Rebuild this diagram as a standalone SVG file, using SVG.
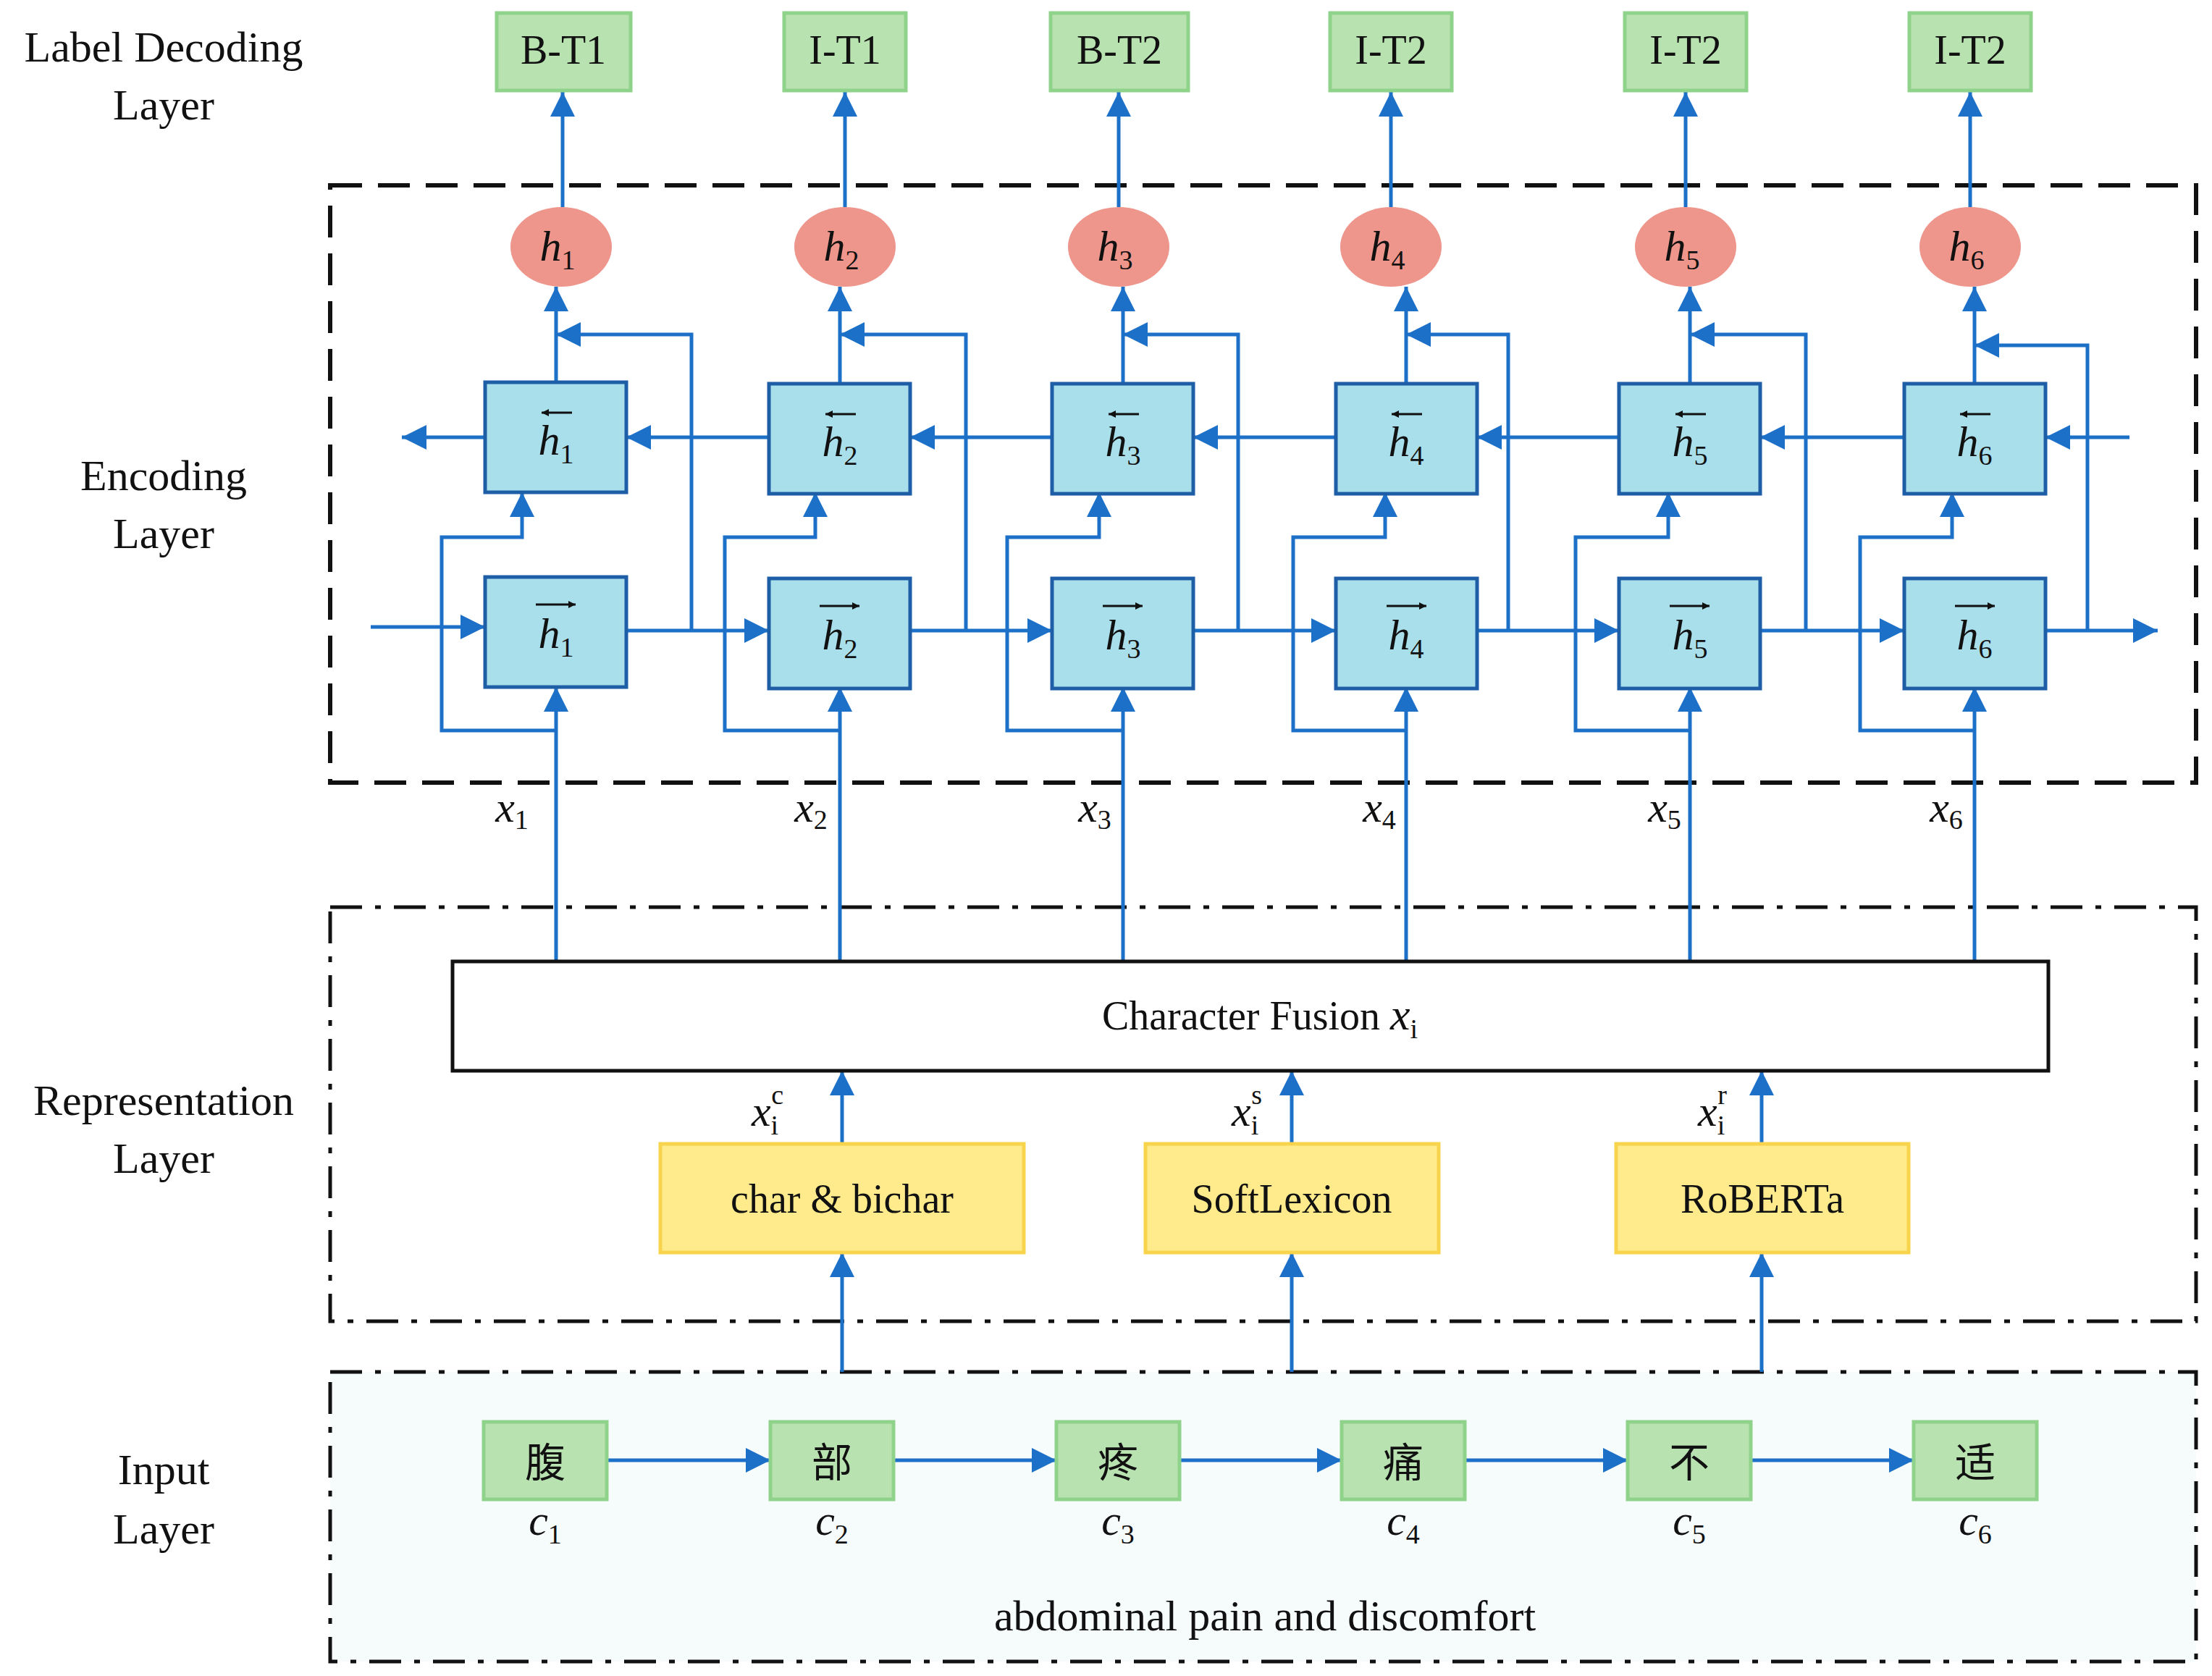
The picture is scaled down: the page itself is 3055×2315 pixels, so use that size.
<svg xmlns="http://www.w3.org/2000/svg" width="3055" height="2315" viewBox="0 0 3055 2315">
<style>
text{font-family:"Liberation Serif","Times New Roman",serif;fill:#111}
.lt{font-size:60px;text-anchor:middle}
.bt{font-size:56px;text-anchor:middle}
.hi{font-size:60px;font-style:italic;text-anchor:middle}
.sub{font-size:38px;font-style:normal}
.c{fill:none;stroke:#1c70c8;stroke-width:5}
.ca{fill:none;stroke:#1c70c8;stroke-width:5;marker-end:url(#ah)}
.lab{fill:#b9e2b1;stroke:#8fd28a;stroke-width:5}
.cell{fill:#a9dfeb;stroke:#1d5ea6;stroke-width:5}
.ell{fill:#ee958c}
.yel{fill:#ffeb8c;stroke:#f8d34c;stroke-width:5}
.dash{fill:none;stroke:#111;stroke-width:6;stroke-dasharray:44 22}
.dd{fill:none;stroke:#111;stroke-width:5;stroke-dasharray:44 18 8 18}
.ov{stroke:#111;stroke-width:3;marker-end:url(#sm)}
</style>
<defs>
<marker id="ah" viewBox="0 0 10 10" refX="10" refY="5" markerUnits="userSpaceOnUse" markerWidth="40" markerHeight="34" orient="auto"><path d="M0,0L10,5L0,10z" fill="#1c70c8"/></marker>
<marker id="sm" viewBox="0 0 10 10" refX="10" refY="5" markerUnits="userSpaceOnUse" markerWidth="12" markerHeight="10" orient="auto"><path d="M0,0L10,5L0,10z" fill="#111"/></marker>
</defs>
<rect width="3055" height="2315" fill="#fff"/>
<g id="layer-labels">
<text class="lt" x="226" y="85">Label Decoding</text><text class="lt" x="226" y="165">Layer</text>
<text class="lt" x="226" y="677">Encoding</text><text class="lt" x="226" y="757">Layer</text>
<text class="lt" x="226" y="1540">Representation</text><text class="lt" x="226" y="1620">Layer</text>
<text class="lt" x="226" y="2050">Input</text><text class="lt" x="226" y="2132">Layer</text>
</g>
<g id="frames">
<rect class="dash" x="456" y="256" width="2577" height="825"/>
<rect class="dd" x="456" y="1253" width="2577" height="572"/>
<rect x="456" y="1895" width="2577" height="400" fill="#f6fbfc"/>
<rect class="dd" x="456" y="1895" width="2577" height="400"/>
</g>
<g id="connectors">
<!-- forward chain -->
<path class="ca" d="M512,866H670"/>
<path class="ca" d="M865,871H1062"/><path class="ca" d="M1257,871H1453"/><path class="ca" d="M1648,871H1845"/><path class="ca" d="M2040,871H2236"/><path class="ca" d="M2431,871H2630"/><path class="ca" d="M2825,871H2980"/>
<!-- backward chain -->
<path class="ca" d="M2941,604H2825"/><path class="ca" d="M2630,604H2431"/><path class="ca" d="M2236,604H2040"/><path class="ca" d="M1845,604H1648"/><path class="ca" d="M1453,604H1257"/><path class="ca" d="M1062,604H865"/><path class="ca" d="M670,604H555"/>
<!-- per column -->
<path class="ca" d="M768,1328V949"/><path class="ca" d="M1160,1328V949"/><path class="ca" d="M1551,1328V949"/><path class="ca" d="M1942,1328V949"/><path class="ca" d="M2334,1328V949"/><path class="ca" d="M2727,1328V949"/>
<path class="ca" d="M768,1009H610V742H721V680"/><path class="ca" d="M1160,1009H1001V742H1126V680"/><path class="ca" d="M1551,1009H1391V742H1518V680"/><path class="ca" d="M1942,1009H1786V742H1913V680"/><path class="ca" d="M2334,1009H2176V742H2304V680"/><path class="ca" d="M2727,1009H2569V742H2696V680"/>
<path class="ca" d="M955,871V462H768"/><path class="ca" d="M1334,871V462H1160"/><path class="ca" d="M1710,871V462H1551"/><path class="ca" d="M2083,871V462H1942"/><path class="ca" d="M2494,871V462H2334"/><path class="ca" d="M2883,871V477H2727"/>
<path class="ca" d="M768,528V396"/><path class="ca" d="M1160,528V396"/><path class="ca" d="M1551,528V396"/><path class="ca" d="M1942,528V396"/><path class="ca" d="M2334,528V396"/><path class="ca" d="M2727,528V396"/>
<path class="ca" d="M777,286V127"/><path class="ca" d="M1167,286V127"/><path class="ca" d="M1545,286V127"/><path class="ca" d="M1921,286V127"/><path class="ca" d="M2328,286V127"/><path class="ca" d="M2721,286V127"/>
<!-- representation -->
<path class="ca" d="M1163,1580V1479"/><path class="ca" d="M1784,1580V1479"/><path class="ca" d="M2433,1580V1479"/>
<path class="ca" d="M1163,1895V1730"/><path class="ca" d="M1784,1895V1730"/><path class="ca" d="M2433,1895V1730"/>
<!-- input chain -->
<path class="ca" d="M838,2017H1064"/><path class="ca" d="M1234,2017H1459"/><path class="ca" d="M1629,2017H1853"/><path class="ca" d="M2023,2017H2248"/><path class="ca" d="M2418,2017H2643"/>
</g>
<g id="labels-out">
<rect class="lab" x="686" y="18" width="185" height="107"/><text class="bt" x="778" y="88">B-T1</text>
<rect class="lab" x="1083" y="18" width="168" height="107"/><text class="bt" x="1167" y="88">I-T1</text>
<rect class="lab" x="1451" y="18" width="190" height="107"/><text class="bt" x="1546" y="88">B-T2</text>
<rect class="lab" x="1837" y="18" width="168" height="107"/><text class="bt" x="1921" y="88">I-T2</text>
<rect class="lab" x="2244" y="18" width="168" height="107"/><text class="bt" x="2328" y="88">I-T2</text>
<rect class="lab" x="2637" y="18" width="168" height="107"/><text class="bt" x="2721" y="88">I-T2</text>
</g>
<g id="hidden-states">
<ellipse class="ell" cx="775" cy="341" rx="70" ry="55"/><text class="hi" x="770" y="360">h<tspan class="sub" dy="12">1</tspan></text>
<ellipse class="ell" cx="1167" cy="341" rx="70" ry="55"/><text class="hi" x="1162" y="360">h<tspan class="sub" dy="12">2</tspan></text>
<ellipse class="ell" cx="1545" cy="341" rx="70" ry="55"/><text class="hi" x="1540" y="360">h<tspan class="sub" dy="12">3</tspan></text>
<ellipse class="ell" cx="1921" cy="341" rx="70" ry="55"/><text class="hi" x="1916" y="360">h<tspan class="sub" dy="12">4</tspan></text>
<ellipse class="ell" cx="2328" cy="341" rx="70" ry="55"/><text class="hi" x="2323" y="360">h<tspan class="sub" dy="12">5</tspan></text>
<ellipse class="ell" cx="2721" cy="341" rx="70" ry="55"/><text class="hi" x="2716" y="360">h<tspan class="sub" dy="12">6</tspan></text>
</g>
<g id="backward-cells">
<rect class="cell" x="670" y="528" width="195" height="152"/><path class="ov" d="M790,570H748"/><text class="hi" x="768" y="628">h<tspan class="sub" dy="12">1</tspan></text>
<rect class="cell" x="1062" y="530" width="195" height="152"/><path class="ov" d="M1182,572H1140"/><text class="hi" x="1160" y="630">h<tspan class="sub" dy="12">2</tspan></text>
<rect class="cell" x="1453" y="530" width="195" height="152"/><path class="ov" d="M1573,572H1531"/><text class="hi" x="1551" y="630">h<tspan class="sub" dy="12">3</tspan></text>
<rect class="cell" x="1845" y="530" width="195" height="152"/><path class="ov" d="M1964,572H1922"/><text class="hi" x="1942" y="630">h<tspan class="sub" dy="12">4</tspan></text>
<rect class="cell" x="2236" y="530" width="195" height="152"/><path class="ov" d="M2356,572H2314"/><text class="hi" x="2334" y="630">h<tspan class="sub" dy="12">5</tspan></text>
<rect class="cell" x="2630" y="530" width="195" height="152"/><path class="ov" d="M2749,572H2707"/><text class="hi" x="2727" y="630">h<tspan class="sub" dy="12">6</tspan></text>
</g>
<g id="forward-cells">
<rect class="cell" x="670" y="797" width="195" height="152"/><path class="ov" d="M740,835H795"/><text class="hi" x="768" y="895">h<tspan class="sub" dy="12">1</tspan></text>
<rect class="cell" x="1062" y="799" width="195" height="152"/><path class="ov" d="M1132,837H1187"/><text class="hi" x="1160" y="897">h<tspan class="sub" dy="12">2</tspan></text>
<rect class="cell" x="1453" y="799" width="195" height="152"/><path class="ov" d="M1523,837H1578"/><text class="hi" x="1551" y="897">h<tspan class="sub" dy="12">3</tspan></text>
<rect class="cell" x="1845" y="799" width="195" height="152"/><path class="ov" d="M1915,837H1970"/><text class="hi" x="1942" y="897">h<tspan class="sub" dy="12">4</tspan></text>
<rect class="cell" x="2236" y="799" width="195" height="152"/><path class="ov" d="M2306,837H2361"/><text class="hi" x="2334" y="897">h<tspan class="sub" dy="12">5</tspan></text>
<rect class="cell" x="2630" y="799" width="195" height="152"/><path class="ov" d="M2700,837H2755"/><text class="hi" x="2727" y="897">h<tspan class="sub" dy="12">6</tspan></text>
</g>
<g id="x-labels">
<text class="hi" x="707" y="1135" font-size="52">x<tspan class="sub" dy="10">1</tspan></text>
<text class="hi" x="1120" y="1135" font-size="52">x<tspan class="sub" dy="10">2</tspan></text>
<text class="hi" x="1512" y="1135" font-size="52">x<tspan class="sub" dy="10">3</tspan></text>
<text class="hi" x="1905" y="1135" font-size="52">x<tspan class="sub" dy="10">4</tspan></text>
<text class="hi" x="2299" y="1135" font-size="52">x<tspan class="sub" dy="10">5</tspan></text>
<text class="hi" x="2688" y="1135" font-size="52">x<tspan class="sub" dy="10">6</tspan></text>
</g>
<g id="fusion">
<rect x="625" y="1328" width="2204" height="151" fill="#fff" stroke="#111" stroke-width="5"/>
<text class="bt" x="1740" y="1422">Character Fusion <tspan font-style="italic" font-size="62">x</tspan><tspan class="sub" font-style="italic" dy="12">i</tspan></text>
</g>
<g id="embeddings">
<text class="hi" x="1060" y="1555">x<tspan class="sub" font-style="italic" dy="12">i</tspan><tspan class="sub" font-style="italic" dx="-10" dy="-42">c</tspan></text>
<text class="hi" x="1722" y="1555">x<tspan class="sub" font-style="italic" dy="12">i</tspan><tspan class="sub" font-style="italic" dx="-10" dy="-42">s</tspan></text>
<text class="hi" x="2365" y="1555">x<tspan class="sub" font-style="italic" dy="12">i</tspan><tspan class="sub" font-style="italic" dx="-10" dy="-42">r</tspan></text>
<rect class="yel" x="912" y="1580" width="502" height="150"/><text class="bt" x="1163" y="1675">char &amp; bichar</text>
<rect class="yel" x="1582" y="1580" width="405" height="150"/><text class="bt" x="1784" y="1675">SoftLexicon</text>
<rect class="yel" x="2232" y="1580" width="404" height="150"/><text class="bt" x="2434" y="1675">RoBERTa</text>
</g>
<g id="input">
<rect class="lab" x="668" y="1964" width="170" height="107"/><text class="bt" x="753" y="2040" style="font-family:'Noto Sans CJK SC',sans-serif">腹</text>
<rect class="lab" x="1064" y="1964" width="170" height="107"/><text class="bt" x="1149" y="2040" style="font-family:'Noto Sans CJK SC',sans-serif">部</text>
<rect class="lab" x="1459" y="1964" width="170" height="107"/><text class="bt" x="1544" y="2040" style="font-family:'Noto Sans CJK SC',sans-serif">疼</text>
<rect class="lab" x="1853" y="1964" width="170" height="107"/><text class="bt" x="1938" y="2040" style="font-family:'Noto Sans CJK SC',sans-serif">痛</text>
<rect class="lab" x="2248" y="1964" width="170" height="107"/><text class="bt" x="2333" y="2040" style="font-family:'Noto Sans CJK SC',sans-serif">不</text>
<rect class="lab" x="2643" y="1964" width="170" height="107"/><text class="bt" x="2728" y="2040" style="font-family:'Noto Sans CJK SC',sans-serif">适</text>
<text class="hi" x="753" y="2120" font-size="54">c<tspan class="sub" dy="12">1</tspan></text>
<text class="hi" x="1149" y="2120" font-size="54">c<tspan class="sub" dy="12">2</tspan></text>
<text class="hi" x="1544" y="2120" font-size="54">c<tspan class="sub" dy="12">3</tspan></text>
<text class="hi" x="1938" y="2120" font-size="54">c<tspan class="sub" dy="12">4</tspan></text>
<text class="hi" x="2333" y="2120" font-size="54">c<tspan class="sub" dy="12">5</tspan></text>
<text class="hi" x="2728" y="2120" font-size="54">c<tspan class="sub" dy="12">6</tspan></text>
<text class="lt" x="1747" y="2252">abdominal pain and discomfort</text>
</g>
</svg>
